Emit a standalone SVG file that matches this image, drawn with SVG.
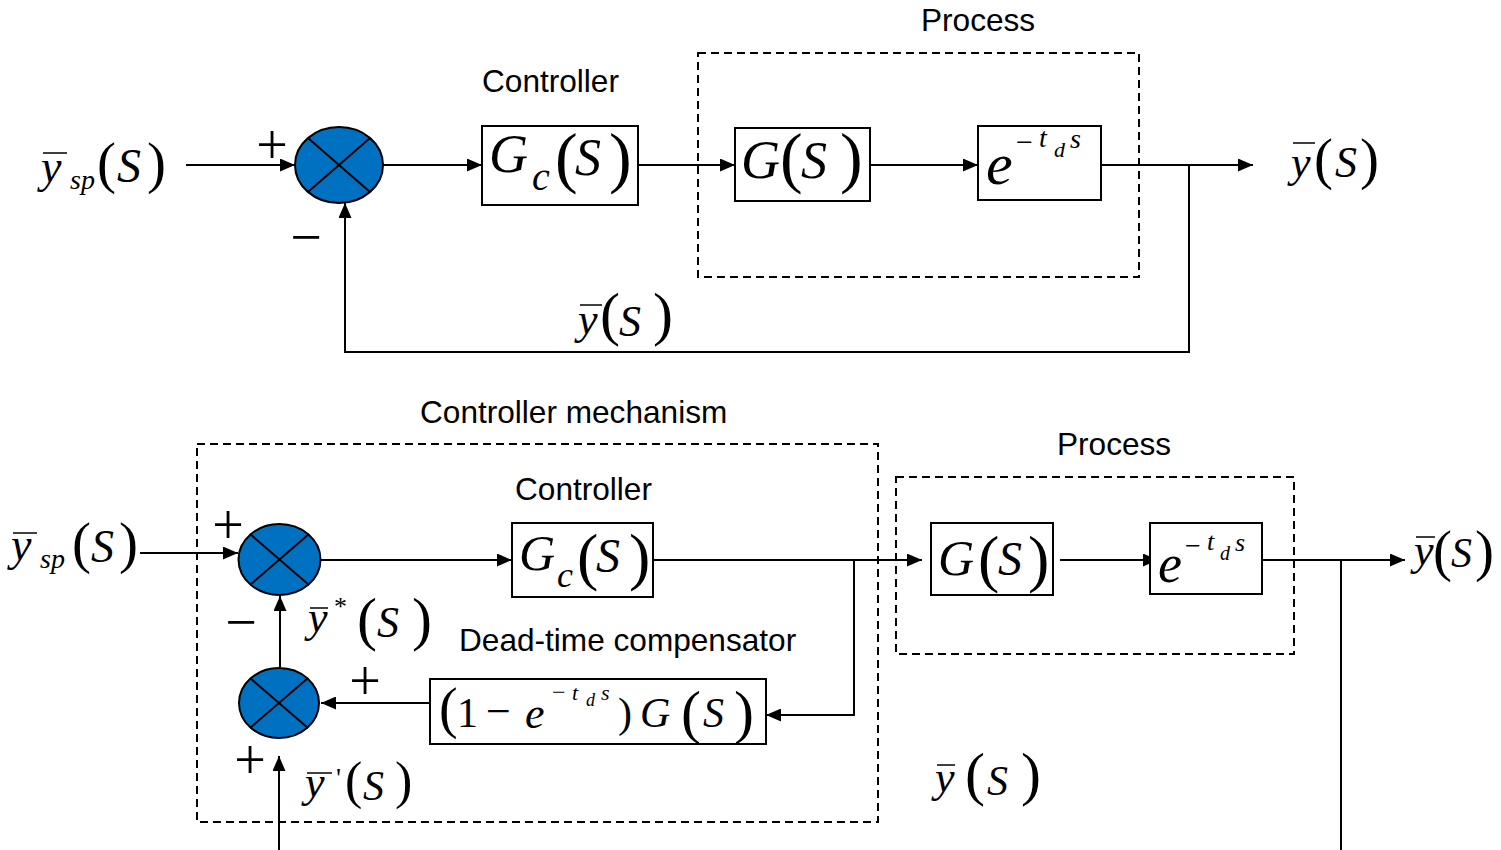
<svg xmlns="http://www.w3.org/2000/svg" width="1501" height="850" viewBox="0 0 1501 850">
<style>
.lbl{font-family:'Liberation Sans',Arial,sans-serif;font-size:31.6px;fill:#000}
.m{font-family:'Liberation Serif','Times New Roman',serif;fill:#000}
.i{font-style:italic}
.box{fill:#fff;stroke:#000;stroke-width:2}
.dash{fill:none;stroke:#000;stroke-width:2;stroke-dasharray:8,5}
.sum{fill:#0070C0;stroke:#000;stroke-width:2}
.x{stroke:#000;stroke-width:2}
.bar{stroke:#000;stroke-width:1.5}
.c{fill:none;stroke:#000;stroke-width:2}
.sg{font-family:'Liberation Serif','Times New Roman',serif;font-size:56px;fill:#000;text-anchor:middle}
</style>
<defs>
<marker id="ah" markerUnits="userSpaceOnUse" markerWidth="15" markerHeight="13" refX="15" refY="6.5" orient="auto">
<path d="M0,0 L15,6.5 L0,13 z" fill="#000"/>
</marker>
</defs>
<rect width="1501" height="850" fill="#fff"/>

<!-- ================= TOP DIAGRAM ================= -->
<g id="process-top">
<rect class="dash" x="698" y="53" width="441" height="224"/>
<text class="lbl" x="921" y="31">Process</text>
</g>
<text class="lbl" x="482" y="92">Controller</text>

<g id="connectors">
<path class="c" d="M186,165 H295" marker-end="url(#ah)"/>
<path class="c" d="M383,165 H482" marker-end="url(#ah)"/>
<path class="c" d="M638,165 H735" marker-end="url(#ah)"/>
<path class="c" d="M870,165 H978" marker-end="url(#ah)"/>
<path class="c" d="M1101,165 H1253" marker-end="url(#ah)"/>
<path class="c" d="M1189,165 V352 H345 V203" marker-end="url(#ah)"/>

<path class="c" d="M140,553 H238" marker-end="url(#ah)"/>
<path class="c" d="M320,560 H512" marker-end="url(#ah)"/>
<path class="c" d="M653,560 H922" marker-end="url(#ah)"/>
<path class="c" d="M854,560 V715 H766" marker-end="url(#ah)"/>
<path class="c" d="M1060,560 H1158" marker-end="url(#ah)"/>
<path class="c" d="M1262,560 H1405" marker-end="url(#ah)"/>
<path class="c" d="M1341,560 V850"/>
<path class="c" d="M430,703 H321" marker-end="url(#ah)"/>
<path class="c" d="M280,667 V596" marker-end="url(#ah)"/>
<path class="c" d="M279,850 V756" marker-end="url(#ah)"/>
</g>

<g id="ysp-top">
<line class="bar" x1="43" y1="153" x2="67" y2="153"/>
<text class="m"><tspan class="i" x="41" y="182" font-size="46">y</tspan><tspan class="i" x="70" y="189" font-size="28">sp</tspan><tspan x="97" y="182" font-size="57">(</tspan><tspan class="i" x="117" y="182" font-size="48">S</tspan><tspan x="147" y="182" font-size="57">)</tspan></text>
</g>

<g id="sum-top">
<ellipse class="sum" cx="339" cy="165" rx="44" ry="38"/>
<line class="x" x1="308" y1="138" x2="370" y2="192"/>
<line class="x" x1="370" y1="138" x2="308" y2="192"/>
<text class="sg" x="272" y="164">+</text>
<text class="sg" x="306" y="256">−</text>
</g>

<g id="gc-top">
<rect class="box" x="482" y="126" width="156" height="79"/>
<text class="m"><tspan class="i" x="489" y="172" font-size="54">G</tspan><tspan class="i" x="532" y="190" font-size="40">c</tspan><tspan x="555" y="180" font-size="68">(</tspan><tspan class="i" x="575" y="175" font-size="52">S</tspan><tspan x="609" y="180" font-size="68">)</tspan></text>
</g>

<g id="g-top">
<rect class="box" x="735" y="128" width="135" height="73"/>
<text class="m"><tspan class="i" x="741" y="178" font-size="54">G</tspan><tspan x="780" y="180" font-size="68">(</tspan><tspan class="i" x="801" y="178" font-size="52">S</tspan><tspan x="840" y="180" font-size="68">)</tspan></text>
</g>

<g id="delay-top">
<rect class="box" x="978" y="126" width="123" height="74"/>
<text class="m"><tspan class="i" x="986" y="184" font-size="60">e</tspan><tspan x="1016" y="152" font-size="30">−</tspan><tspan class="i" x="1039" y="147" font-size="28">t</tspan><tspan class="i" x="1054" y="157" font-size="22">d</tspan><tspan class="i" x="1070" y="148" font-size="28">s</tspan></text>
</g>

<g id="y-out-top">
<line class="bar" x1="1293" y1="143" x2="1315" y2="143"/>
<text class="m"><tspan class="i" x="1291" y="177" font-size="44">y</tspan><tspan x="1314" y="178" font-size="57">(</tspan><tspan class="i" x="1335" y="177" font-size="44">S</tspan><tspan x="1360" y="178" font-size="57">)</tspan></text>
</g>

<g id="y-fb-top">
<line class="bar" x1="580" y1="305" x2="602" y2="305"/>
<text class="m"><tspan class="i" x="578" y="334" font-size="44">y</tspan><tspan x="600" y="334" font-size="60">(</tspan><tspan class="i" x="619" y="336" font-size="44">S</tspan><tspan x="653" y="334" font-size="60">)</tspan></text>
</g>

<!-- ================= BOTTOM DIAGRAM ================= -->
<g id="mechanism">
<rect class="dash" x="197" y="444" width="681" height="378"/>
<text class="lbl" x="420" y="423">Controller mechanism</text>
</g>
<g id="process-bottom">
<rect class="dash" x="896" y="477" width="398" height="177"/>
<text class="lbl" x="1057" y="455">Process</text>
</g>
<text class="lbl" x="515" y="500">Controller</text>
<text class="lbl" x="459" y="651">Dead-time compensator</text>

<g id="ysp-bottom">
<line class="bar" x1="13" y1="533" x2="37" y2="533"/>
<text class="m"><tspan class="i" x="11" y="560" font-size="46">y</tspan><tspan class="i" x="40" y="568" font-size="28">sp</tspan><tspan x="72" y="562" font-size="57">(</tspan><tspan class="i" x="91" y="562" font-size="46">S</tspan><tspan x="119" y="562" font-size="57">)</tspan></text>
</g>

<g id="sum1">
<ellipse class="sum" cx="279.5" cy="559.5" rx="41" ry="35.5"/>
<line class="x" x1="250" y1="534" x2="309" y2="585"/>
<line class="x" x1="309" y1="534" x2="250" y2="585"/>
<text class="sg" x="228" y="544">+</text>
<text class="sg" x="241" y="641">−</text>
</g>

<g id="sum2">
<ellipse class="sum" cx="279" cy="703" rx="40" ry="35"/>
<line class="x" x1="250" y1="678" x2="308" y2="728"/>
<line class="x" x1="308" y1="678" x2="250" y2="728"/>
<text class="sg" x="365" y="700">+</text>
<text class="sg" x="250" y="779">+</text>
</g>

<g id="ystar">
<line class="bar" x1="310" y1="608" x2="328" y2="608"/>
<text class="m"><tspan class="i" x="308" y="632" font-size="44">y</tspan><tspan x="334" y="615" font-size="26">*</tspan><tspan x="357" y="639" font-size="60">(</tspan><tspan class="i" x="377" y="637" font-size="44">S</tspan><tspan x="412" y="639" font-size="60">)</tspan></text>
</g>

<g id="yprime">
<line class="bar" x1="307" y1="773" x2="332" y2="773"/>
<text class="m"><tspan class="i" x="305" y="797" font-size="44">y</tspan><tspan x="336" y="787" font-size="28">'</tspan><tspan x="345" y="798" font-size="52">(</tspan><tspan class="i" x="363" y="800" font-size="42">S</tspan><tspan x="395" y="798" font-size="52">)</tspan></text>
</g>

<g id="gc-bottom">
<rect class="box" x="512" y="523" width="141" height="74"/>
<text class="m"><tspan class="i" x="519" y="570" font-size="50">G</tspan><tspan class="i" x="557" y="587" font-size="36">c</tspan><tspan x="577" y="578" font-size="64">(</tspan><tspan class="i" x="596" y="572" font-size="48">S</tspan><tspan x="629" y="578" font-size="64">)</tspan></text>
</g>

<g id="compensator">
<rect class="box" x="430" y="679" width="336" height="65"/>
<text class="m"><tspan x="439" y="727" font-size="56">(</tspan><tspan x="457" y="727" font-size="42">1</tspan><tspan x="486" y="726" font-size="44">−</tspan><tspan class="i" x="525" y="728" font-size="44">e</tspan><tspan x="552" y="700" font-size="24">−</tspan><tspan class="i" x="572" y="700" font-size="22">t</tspan><tspan class="i" x="586" y="706" font-size="18">d</tspan><tspan class="i" x="601" y="700" font-size="22">s</tspan><tspan x="618" y="727" font-size="42">)</tspan><tspan class="i" x="640" y="727" font-size="42">G</tspan><tspan x="681" y="732" font-size="60">(</tspan><tspan class="i" x="703" y="727" font-size="42">S</tspan><tspan x="734" y="732" font-size="60">)</tspan></text>
</g>

<g id="g-bottom">
<rect class="box" x="931" y="523" width="122" height="72"/>
<text class="m"><tspan class="i" x="938" y="575" font-size="50">G</tspan><tspan x="978" y="580" font-size="64">(</tspan><tspan class="i" x="998" y="575" font-size="48">S</tspan><tspan x="1028" y="580" font-size="64">)</tspan></text>
</g>

<g id="delay-bottom">
<rect class="box" x="1150" y="523" width="112" height="71"/>
<text class="m"><tspan class="i" x="1158" y="582" font-size="54">e</tspan><tspan x="1185" y="555" font-size="28">−</tspan><tspan class="i" x="1207" y="550" font-size="26">t</tspan><tspan class="i" x="1220" y="560" font-size="20">d</tspan><tspan class="i" x="1235" y="551" font-size="26">s</tspan></text>
</g>

<g id="y-out-bottom">
<line class="bar" x1="1416" y1="537" x2="1435" y2="537"/>
<text class="m"><tspan class="i" x="1414" y="565" font-size="44">y</tspan><tspan x="1433" y="570" font-size="57">(</tspan><tspan class="i" x="1451" y="567" font-size="42">S</tspan><tspan x="1475" y="570" font-size="57">)</tspan></text>
</g>

<g id="y-mid-bottom">
<line class="bar" x1="937" y1="765" x2="955" y2="765"/>
<text class="m"><tspan class="i" x="935" y="792" font-size="44">y</tspan><tspan x="965" y="794" font-size="60">(</tspan><tspan class="i" x="987" y="795" font-size="42">S</tspan><tspan x="1021" y="794" font-size="60">)</tspan></text>
</g>
</svg>
